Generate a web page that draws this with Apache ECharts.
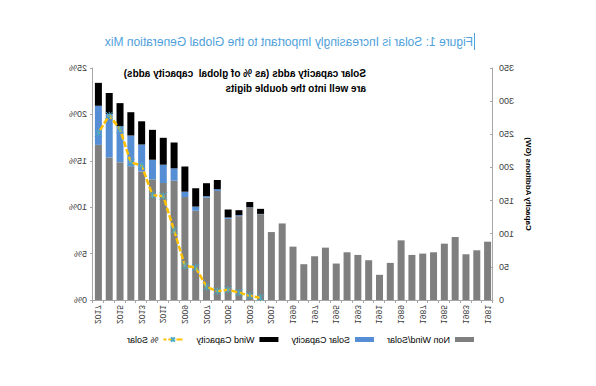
<!DOCTYPE html>
<html>
<head>
<meta charset="utf-8">
<script src="https://cdn.jsdelivr.net/npm/echarts@6/dist/echarts.min.js"></script>
<style>
html,body{margin:0;padding:0;background:#fff;}
#c{width:596px;height:386px;transform:scaleX(-1);transform-origin:center;}
</style>
</head>
<body>
<div id="c"></div>
<script>
const years = ['1981','1982','1983','1984','1985','1986','1987','1988','1989','1990',
  '1991','1992','1993','1994','1995','1996','1997','1998','1999','2000',
  '2001','2002','2003','2004','2005','2006','2007','2008','2009','2010',
  '2011','2012','2013','2014','2015','2016','2017'];
const nonWindSolar = [88,75,69,95,85,72,70,68,90,56,
  38,60,68,72,55,79,66,54,80.5,115.5,
  102.5,129.5,139.3,126.5,122.5,164.5,154.4,134.6,155.4,180,
  176.5,182,194,201.6,208,215,234];
const solarCapacity = [0,0,0,0,0,0,0,0,0,0,
  0,0,0,0,0,0,0,0,0,0,
  0,0.4,0.5,1.5,2,2.5,2.2,6.3,8,18.6,
  27.6,29.6,40.6,46.6,54,65.7,59];
const windCapacity = [0,0,0,0,0,0,0,0,0,0,
  0,0,0,0,0,0,0,0,0,0,
  0,7.6,8,7.5,12,14,19.6,27.7,38,39,
  40.6,45.1,35,35.1,35,31.6,34.6];
const pctSolar = [null,null,null,null,null,null,null,null,null,null,
  null,null,null,null,null,null,null,null,null,null,
  null,0.25,0.45,0.8,1.1,0.95,1.4,3.5,3.7,7.5,
  11.2,11.3,14.5,14.8,18.4,19.9,18.0];
const gwTicks = {min:0,max:350,interval:50};
const pctTicks = {min:0,max:25,interval:5};

const FONT = '"Liberation Sans", Arial, sans-serif';
const chart = echarts.init(document.getElementById('c'), null, {renderer:'svg'});
chart.setOption({
  animation:false,
  backgroundColor:'#fff',
  title:{
    text:'Figure 1: Solar is Increasingly Important to the Global Generation Mix',
    left:123, top:36, padding:0,
    textStyle:{fontSize:12, fontWeight:'normal', color:'#4E9FDB', fontFamily:FONT}
  },
  graphic:[
    {type:'rect', shape:{x:121,y:33,width:1,height:17}, style:{fill:'#4E9FDB'}},
    {type:'text', left:230, top:66, style:{
      text:'Solar capacity adds (as % of global  capacity adds)\nare well into the double digits',
      font:'bold 10px '+FONT, fill:'#000', lineHeight:15}}
  ],
  legend:{
    left:122, top:335, padding:0, itemWidth:19, itemHeight:5, itemGap:13,
    textStyle:{fontSize:9, color:'#000', fontFamily:FONT},
    data:[
      {name:'Non Wind/Solar', icon:'rect'},
      {name:'Solar Capacity', icon:'rect'},
      {name:'Wind Capacity', icon:'rect'},
      {name:'% Solar'}
    ]
  },
  grid:{left:103, right:93, top:68, bottom:86, containLabel:false},
  xAxis:{
    type:'category', data:years,
    axisLine:{lineStyle:{color:'#A6A6A6'}},
    axisTick:{show:true, interval:0, length:3, lineStyle:{color:'#A6A6A6'}},
    axisLabel:{interval:1, rotate:90, fontSize:8.5, color:'#404040', fontFamily:FONT, margin:5}
  },
  yAxis:[
    {type:'value', min:gwTicks.min, max:gwTicks.max, interval:gwTicks.interval,
     name:'Capacity Additions (GW)', nameLocation:'middle', nameGap:25,
     nameTextStyle:{fontSize:8, fontWeight:'bold', color:'#000', fontFamily:FONT},
     splitLine:{show:false},
     axisLine:{show:true, lineStyle:{color:'#A6A6A6'}},
     axisTick:{show:true, inside:true, length:3, lineStyle:{color:'#A6A6A6'}},
     axisLabel:{fontSize:9, color:'#404040', fontFamily:FONT, margin:6}},
    {type:'value', min:pctTicks.min, max:pctTicks.max, interval:pctTicks.interval,
     position:'right',
     splitLine:{show:false},
     axisLine:{show:true, lineStyle:{color:'#A6A6A6'}},
     axisTick:{show:true, length:3, lineStyle:{color:'#A6A6A6'}},
     axisLabel:{fontSize:9, color:'#404040', fontFamily:FONT, margin:6, formatter:'{value}%'}}
  ],
  series:[
    {name:'Non Wind/Solar', type:'bar', stack:'cap', data:nonWindSolar, barWidth:7,
     itemStyle:{color:'#7F7F7F'}},
    {name:'Solar Capacity', type:'bar', stack:'cap', data:solarCapacity, barWidth:7,
     itemStyle:{color:'#558ED5'}},
    {name:'Wind Capacity', type:'bar', stack:'cap', data:windCapacity, barWidth:7,
     itemStyle:{color:'#000000'}},
    {name:'% Solar', type:'line', yAxisIndex:1, data:pctSolar, connectNulls:false,
     symbol:'path://M0 0L10 10M10 0L0 10M5 0L5 10', symbolSize:7,
     lineStyle:{color:'#FFC000', width:2.5, type:[6,2]},
     itemStyle:{color:'#4BACC6', borderColor:'#4BACC6', borderWidth:1}}
  ]
});
</script>
</body>
</html>
